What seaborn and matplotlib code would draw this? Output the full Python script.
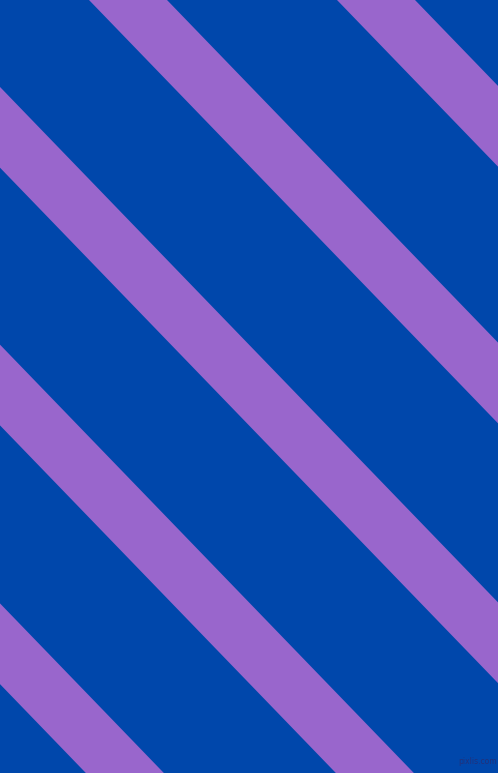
import numpy as np
import matplotlib
matplotlib.use("Agg")
import matplotlib.pyplot as plt
import seaborn as sns

# Pattern data: diagonal stripes (x-intercept at top edge of each stripe's lower-left side)
stripe_offsets = [-661, -411, -162, 89, 337]
stripe_width = [78, 78, 78, 78, 78]
slope = 1.035
background_color = "#0047AB"   # cobalt
stripe_color = "#9966CC"       # amethyst
watermark = "pixlis.com"

sns.set_theme(style="white")

W, H = 498, 773
fig = plt.figure(figsize=(W / 100, H / 100), dpi=100)
ax = fig.add_axes([0, 0, 1, 1])
ax.set_facecolor(background_color)
fig.patch.set_facecolor(background_color)

xs = np.array([-20.0, W + 20.0])
for x0, w in zip(stripe_offsets, stripe_width):
    y_low = slope * (xs - x0)
    y_high = slope * (xs - x0 - w)
    ax.fill_between(xs, y_high, y_low, color=stripe_color, linewidth=0, antialiased=True)

ax.text(497, 766, watermark, ha="right", va="bottom", fontsize=5.5,
        color="#22307a", family="DejaVu Sans")

ax.set_xlim(0, W)
ax.set_ylim(H, 0)
ax.set_axis_off()
sns.despine(ax=ax, left=True, bottom=True)

fig.savefig("out.png", dpi=100, facecolor=background_color)
